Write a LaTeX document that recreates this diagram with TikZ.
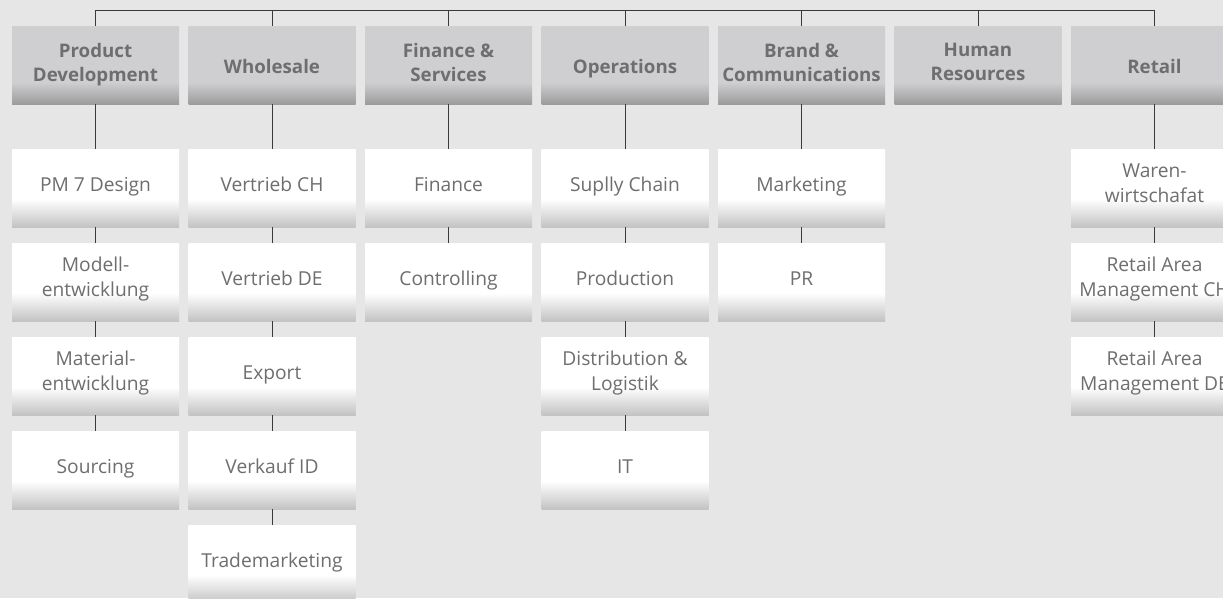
\documentclass[tikz,border=0pt]{standalone}
\usepackage{fontspec}
\setmainfont{Open Sans}
\definecolor{bg}{HTML}{E6E6E6}
\definecolor{htop}{HTML}{CFCFD1}
\definecolor{hbot}{HTML}{9C9C9D}
\definecolor{cbot}{HTML}{C3C3C4}
\definecolor{txt}{HTML}{6E6E6E}
\definecolor{lnc}{HTML}{3A3A3A}
\pgfdeclareverticalshading{childshade}{100bp}{color(0bp)=(cbot); color(25bp)=(cbot); color(43bp)=(white); color(100bp)=(white)}
\pgfdeclareverticalshading{hdrshade}{100bp}{color(0bp)=(hbot); color(25bp)=(hbot); color(39bp)=(htop); color(100bp)=(htop)}
\newcommand{\hstrut}{\rule[-6pt]{0pt}{28pt}}
\newcommand{\cstrut}{\rule[-10pt]{0pt}{26pt}}
\tikzset{
  hdr/.style={shading=hdrshade, minimum width=167pt, minimum height=78pt, inner sep=0pt,
    align=center, text=txt, font=\fontsize{18.7}{24}\selectfont\bfseries,
    execute at begin node=\hstrut, execute at end node=\hstrut},
  child/.style={shading=childshade, minimum width=167pt, minimum height=78pt, inner sep=0pt,
    align=center, text=txt, font=\fontsize{19.2}{25}\selectfont,
    execute at begin node=\cstrut, execute at end node=\cstrut},
  conn/.style={draw=lnc, line width=1pt}
}
\begin{document}
\begin{tikzpicture}[x=1pt,y=-1pt]
\fill[bg] (0,0) rectangle (1223,598);
\useasboundingbox (0,0) rectangle (1223,598);
\clip (0,0) rectangle (1223,598);
% headers
\foreach \i/\t in {0/{Product\\Development},1/{Wholesale},2/{Finance \&\\Services},3/{Operations},4/{Brand \&\\Communications},5/{Human\\Resources},6/{Retail}}{
  \coordinate (t\i) at (95.5+176.5*\i,10);
  \node[hdr] (h\i) at (95.5+176.5*\i,65) {\t};
  \draw[conn] (t\i) -- (h\i.north);
}
\draw[conn] (t0) -- (t6);
% children
\foreach \i/\list in {
  0/{PM 7 Design,{Modell-\\entwicklung},{Material-\\entwicklung},Sourcing},
  1/{Vertrieb CH,Vertrieb DE,Export,Verkauf ID,Trademarketing},
  2/{Finance,Controlling},
  3/{Suplly Chain,Production,{Distribution \&\\Logistik},IT},
  4/{Marketing,PR},
  6/{{Waren-\\wirtschafat},{Retail Area\\Management CH},{Retail Area\\Management DE}}}{
  \foreach \t [count=\j from 1] in \list {
    \node[child] (c\i-\j) at (95.5+176.5*\i,188+94*\j-94) {\t};
  }
}
% connectors
\draw[conn] (h0.south) -- (c0-1.north);
\draw[conn] (c0-1.south) -- (c0-2.north);
\draw[conn] (c0-2.south) -- (c0-3.north);
\draw[conn] (c0-3.south) -- (c0-4.north);
\draw[conn] (h1.south) -- (c1-1.north);
\draw[conn] (c1-1.south) -- (c1-2.north);
\draw[conn] (c1-2.south) -- (c1-3.north);
\draw[conn] (c1-3.south) -- (c1-4.north);
\draw[conn] (c1-4.south) -- (c1-5.north);
\draw[conn] (h2.south) -- (c2-1.north);
\draw[conn] (c2-1.south) -- (c2-2.north);
\draw[conn] (h3.south) -- (c3-1.north);
\draw[conn] (c3-1.south) -- (c3-2.north);
\draw[conn] (c3-2.south) -- (c3-3.north);
\draw[conn] (c3-3.south) -- (c3-4.north);
\draw[conn] (h4.south) -- (c4-1.north);
\draw[conn] (c4-1.south) -- (c4-2.north);
\draw[conn] (h6.south) -- (c6-1.north);
\draw[conn] (c6-1.south) -- (c6-2.north);
\draw[conn] (c6-2.south) -- (c6-3.north);
\end{tikzpicture}
\end{document}
